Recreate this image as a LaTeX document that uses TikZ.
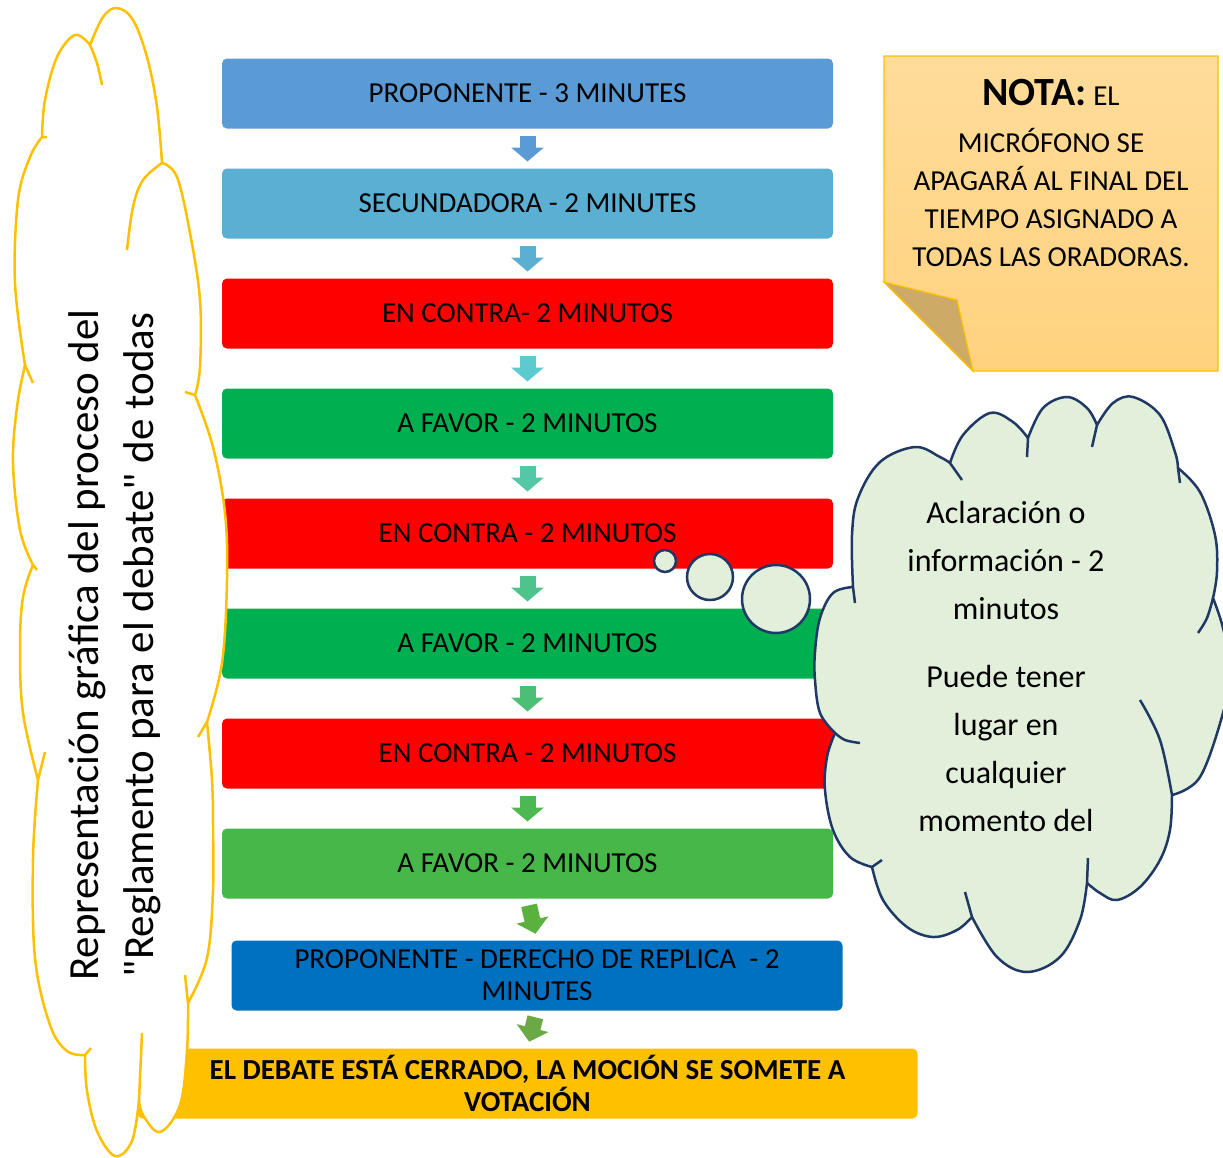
\documentclass[tikz,border=0pt]{standalone}
\usepackage{fontspec}
\setmainfont{Carlito}
\usetikzlibrary{arrows.meta,positioning}

\definecolor{azul1}{HTML}{5B9BD5}
\definecolor{azul2}{HTML}{5AAFD2}
\definecolor{azul3}{HTML}{0070C0}
\definecolor{rojo}{HTML}{FF0000}
\definecolor{verde1}{HTML}{00B050}
\definecolor{verde2}{HTML}{47B74A}
\definecolor{oro}{HTML}{FFC000}
\definecolor{nube}{HTML}{E2EFDA}
\definecolor{marino}{HTML}{203864}
\definecolor{nota1}{HTML}{FFDC9A}
\definecolor{nota2}{HTML}{FFD27E}
\definecolor{pliegue}{HTML}{CDAA66}
\definecolor{f1}{HTML}{5B9BD5}
\definecolor{f2}{HTML}{5AAFD2}
\definecolor{f3}{HTML}{5BCBCF}
\definecolor{f4}{HTML}{53C7A6}
\definecolor{f5}{HTML}{4EC48C}
\definecolor{f6}{HTML}{4DBF74}
\definecolor{f7}{HTML}{4CB852}
\definecolor{f8}{HTML}{5AB13D}
\definecolor{f9}{HTML}{6AA944}

\begin{document}
\begin{tikzpicture}[x=0.5pt,y=-0.5pt,node distance=20pt,semithick]
          \tikzstyle{paso}=[rectangle,rounded corners=2.5pt,minimum width=305.5pt,minimum height=35pt,inner sep=0pt,outer sep=0pt,text=black,align=center,font=\fontsize{14.5}{16}\selectfont]
          \tikzstyle{flecha}=[line width=8pt,-{Triangle[width=16pt,length=7pt]},shorten <=3.5pt,shorten >=3.5pt]
          \tikzstyle{burbuja}=[circle,draw=marino,fill=nube,line width=1.25pt,inner sep=0pt]
          \tikzstyle{lobulo}=[smooth,tension=0.6]
          \useasboundingbox (0,0) rectangle (1223,1158);

          \node[paso,fill=azul1] (P1) at (527.5,93.5) {PROPONENTE - 3 MINUTES};
          \node[paso,fill=azul2] (P2) [below=of P1] {SECUNDADORA - 2 MINUTES};
          \node[paso,fill=rojo]  (P3) [below=of P2] {EN CONTRA- 2 MINUTOS};
          \node[paso,fill=verde1] (P4) [below=of P3] {A FAVOR - 2 MINUTOS};
          \node[paso,fill=rojo]  (P5) [below=of P4] {EN CONTRA - 2 MINUTOS};
          \node[paso,fill=verde1] (P6) [below=of P5] {A FAVOR - 2 MINUTOS};
          \node[paso,fill=rojo]  (P7) [below=of P6] {EN CONTRA - 2 MINUTOS};
          \node[paso,fill=verde2] (P8) [below=of P7] {A FAVOR - 2 MINUTOS};
          \node[paso,fill=azul3] (P9) [below=of P8,xshift=4.75pt,yshift=-1pt] {PROPONENTE - DERECHO DE REPLICA\ \ - 2\\MINUTES};
          \node[paso,fill=oro,minimum width=390pt,font=\fontsize{14.5}{16}\selectfont\bfseries] (P10) [below=of P9,xshift=-4.75pt,yshift=1pt] {EL DEBATE ESTÁ CERRADO, LA MOCIÓN SE SOMETE A\\VOTACIÓN};

          \foreach \a/\b/\c in {P1/P2/f1,P2/P3/f2,P3/P4/f3,P4/P5/f4,P5/P6/f5,P6/P7/f6,P7/P8/f7,P8/P9/f8,P9/P10/f9}
            \draw[flecha,\c] (\a.south) -- (\b.north);

          % nube izquierda
          \filldraw[fill=white,draw=oro,line width=1.25pt,line join=round]
            plot[lobulo] coordinates {(42,137) (45,100) (57,57) (75,35) (90,45)}
            -- plot[lobulo] coordinates {(90,45) (103,17) (117,8) (133,20) (147,57) (157,107) (162,163)}
            -- plot[lobulo] coordinates {(162,163) (177,177) (190,233) (200,300) (200,367) (195,395)}
            -- plot[lobulo] coordinates {(195,395) (213,447) (225,513) (227,580) (222,663) (207,722)}
            -- plot[lobulo] coordinates {(207,722) (212,780) (213,825) (213,891) (207,958) (188,1003)}
            -- plot[lobulo] coordinates {(188,1003) (187,1051) (180,1105) (160,1132) (143,1115) (139,1100)}
            -- plot[lobulo] coordinates {(139,1100) (132,1141) (115,1156) (97,1131) (87,1091) (85,1055)}
            -- plot[lobulo] coordinates {(85,1055) (67,1051) (50,1025) (35,958) (33,858) (38,780)}
            -- plot[lobulo] coordinates {(38,780) (23,713) (20,647) (23,597) (33,565)}
            -- plot[lobulo] coordinates {(33,565) (20,530) (13,463) (17,407) (25,365)}
            -- plot[lobulo] coordinates {(25,365) (15,283) (18,200) (30,157) (42,137)} -- cycle;
          \draw[oro,line width=1.25pt]
            plot[lobulo] coordinates {(90,45) (97,63) (102,85)}
            plot[lobulo] coordinates {(162,163) (143,180) (133,207) (127,250)}
            plot coordinates {(195,395) (185,392)}
            plot coordinates {(207,722) (198,737)}
            plot coordinates {(188,1003) (185,975)}
            plot coordinates {(139,1100) (142,1033)}
            plot coordinates {(85,1055) (91,1048)}
            plot coordinates {(38,780) (45,752)}
            plot coordinates {(33,565) (37,570)}
            plot coordinates {(25,365) (33,383)}
            plot coordinates {(42,137) (47,137)};
          \node[rotate=90,align=center,font=\fontsize{21.5}{27.5}\selectfont] (titulo) at (115,645) {Representación gráfica del proceso del\\\textquotedbl Reglamento para el debate\textquotedbl{} de todas};

          % nota
          \shadedraw[top color=nota1,bottom color=nota2,draw=oro] (884,56) -- (1218,56) -- (1218,371) -- (973,371) -- (884,282) -- cycle;
          \filldraw[fill=pliegue,draw=oro] (884,282) -- (957,300) -- (973,371) -- cycle;
          \node[align=center,font=\fontsize{14.5}{19}\selectfont] (nota) at (1051,173) {{\fontsize{20}{24}\selectfont\bfseries NOTA:} EL\\[4.5pt]MICRÓFONO SE\\APAGARÁ AL FINAL DEL\\TIEMPO ASIGNADO A\\TODAS LAS ORADORAS.};

          % nube derecha
          \node[burbuja,minimum size=11pt] (B1) at (665,561) {};
          \node[burbuja,minimum size=23pt] (B2) at (710,577) {};
          \node[burbuja,minimum size=34pt] (B3) at (776,599) {};
          \filldraw[fill=nube,draw=marino,line width=1.25pt,line join=round]
            plot[lobulo] coordinates {(853,587) (852,535) (858,498) (880,462) (915,447) (940,457) (950,463)}
            -- plot[lobulo] coordinates {(950,463) (963,435) (990,413) (1013,422) (1028,438)}
            -- plot[lobulo] coordinates {(1028,438) (1043,408) (1067,397) (1087,408) (1097,425)}
            -- plot[lobulo] coordinates {(1097,425) (1113,403) (1133,397) (1160,415) (1175,452) (1178,468)}
            -- plot[lobulo] coordinates {(1178,468) (1200,492) (1215,535) (1217,572) (1213,598)}
            -- plot[lobulo] coordinates {(1213,598) (1223,628) (1230,670) (1223,713) (1200,777) (1172,795)}
            -- plot[lobulo] coordinates {(1172,795) (1170,830) (1160,860) (1140,887) (1117,900) (1100,893) (1087,883)}
            -- plot[lobulo] coordinates {(1087,883) (1080,920) (1060,957) (1027,972) (997,957) (972,917)}
            -- plot[lobulo] coordinates {(972,917) (957,930) (933,937) (907,927) (883,900) (872,867)}
            -- plot[lobulo] coordinates {(872,867) (850,857) (833,830) (825,790) (827,757) (835,733)}
            -- plot[lobulo] coordinates {(835,733) (820,713) (815,680) (815,652) (820,618) (833,593) (853,587)} -- cycle;
          \draw[marino,line width=1.25pt]
            plot coordinates {(853,587) (855,603)}
            plot coordinates {(950,463) (962,480)}
            plot coordinates {(1028,438) (1027,457)}
            plot coordinates {(1097,425) (1092,447)}
            plot coordinates {(1178,468) (1180,483)}
            plot[lobulo] coordinates {(1213,598) (1207,618) (1198,633)}
            plot[lobulo] coordinates {(1172,795) (1160,740) (1140,700)}
            plot coordinates {(1087,883) (1088,858)}
            plot coordinates {(972,917) (965,892)}
            plot coordinates {(872,867) (882,860)}
            plot[lobulo] coordinates {(835,733) (845,740) (860,743)};
          \node[align=center,font=\fontsize{16}{24}\selectfont] (aclara) at (1006,666) {Aclaración o\\información - 2\\minutos\\[10pt]Puede tener\\lugar en\\cualquier\\momento del};
\end{tikzpicture}
\end{document}
